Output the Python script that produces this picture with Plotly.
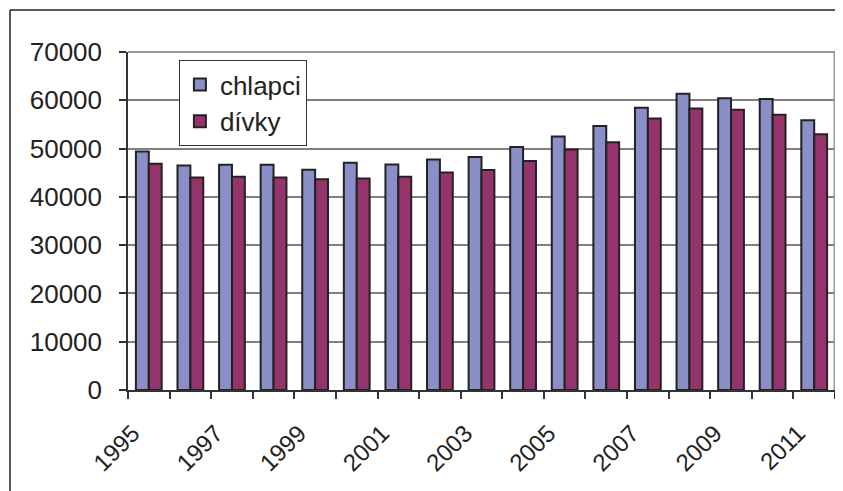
import plotly.graph_objects as go

years = list(range(1995, 2012))
chlapci = [49400, 46500, 46650, 46650, 45600, 47050, 46700, 47750, 48250,
           50300, 52500, 54650, 58450, 61350, 60400, 60250, 55850]
divky = [46850, 44000, 44150, 44000, 43650, 43800, 44150, 45050, 45550,
         47450, 49800, 51300, 56250, 58300, 58050, 57000, 52950]
tick_years = list(range(1995, 2012, 2))
tick_labels = [str(y) for y in tick_years]
boundaries = [y - 0.5 for y in years] + [years[-1] + 0.5]

FONT = "Liberation Sans, Arial, sans-serif"

fig = go.Figure()
fig.add_trace(go.Bar(x=years, y=chlapci, name="chlapci",
                     marker=dict(color="#8A8FC8", line=dict(color="#222222", width=2))))
fig.add_trace(go.Bar(x=years, y=divky, name="dívky",
                     marker=dict(color="#94346A", line=dict(color="#222222", width=2))))

fig.update_layout(
    width=835, height=483,
    margin=dict(l=120, r=8, t=44, b=101, autoexpand=False),
    paper_bgcolor="white", plot_bgcolor="white",
    barmode="group", bargap=0.38, bargroupgap=0,
    font=dict(family=FONT, size=26, color="#222222"),
    showlegend=True,
    legend=dict(x=0.072, y=0.976, xanchor="left", yanchor="top",
                bgcolor="white", bordercolor="#333333", borderwidth=1,
                font=dict(size=26), tracegroupgap=0),
    xaxis=dict(range=[1994.5, 2011.5], tickmode="array", tickvals=tick_years,
               ticktext=tick_labels, tickangle=-45, ticks="",
               tickfont=dict(size=24), ticklabelstandoff=18, ticklabelshift=-16,
               showline=True, linecolor="#333333", linewidth=1.5,
               showgrid=False, zeroline=False, automargin=False,
               minor=dict(tickmode="array", tickvals=boundaries, ticks="outside",
                          ticklen=7, tickwidth=1.5, tickcolor="#333333", showgrid=False)),
    yaxis=dict(range=[0, 70000], dtick=10000, tick0=0, tickformat="d",
               ticks="outside", ticklen=7, tickwidth=1.5, tickcolor="#333333",
               showline=True, linecolor="#333333", linewidth=1.5,
               showgrid=True, gridcolor="#808080", gridwidth=1.5,
               zeroline=False, ticklabelstandoff=12, automargin=False),
    shapes=[
        dict(type="line", xref="paper", yref="paper", x0=1, x1=1, y0=0, y1=1,
             line=dict(color="#999999", width=3)),
        dict(type="line", xref="paper", yref="paper", x0=0, x1=1, y0=1, y1=1,
             line=dict(color="#999999", width=2)),
        dict(type="line", xref="paper", yref="paper", x0=-0.1669, x1=1.05,
             y0=1.1243, y1=1.1243, line=dict(color="#222222", width=1.5)),
        dict(type="line", xref="paper", yref="paper", x0=-0.1669, x1=-0.1669,
             y0=1.1243, y1=-0.35, line=dict(color="#222222", width=1.5)),
    ],
)

fig.write_html("out.html")
